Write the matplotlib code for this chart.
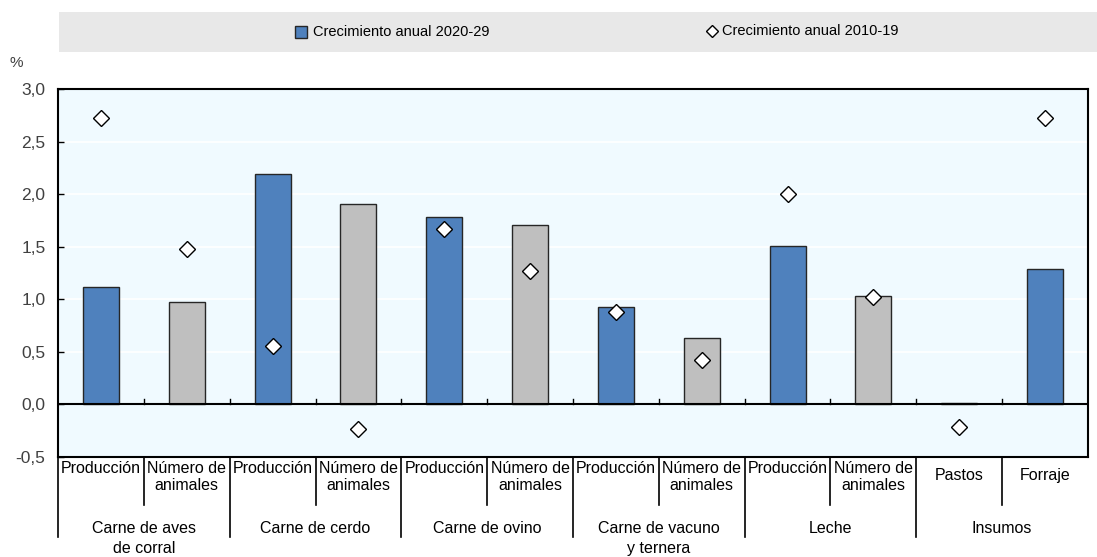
import numpy as np
import matplotlib.pyplot as plt
from matplotlib.patches import Rectangle
from matplotlib.lines import Line2D
from matplotlib.ticker import FuncFormatter

plt.rcParams['font.family'] = ['Liberation Sans', 'DejaVu Sans']

sub_labels = ["Producción", "Número de\nanimales", "Producción", "Número de\nanimales",
              "Producción", "Número de\nanimales", "Producción", "Número de\nanimales",
              "Producción", "Número de\nanimales", "Pastos", "Forraje"]
groups = ["Carne de aves\nde corral", "Carne de cerdo", "Carne de ovino",
          "Carne de vacuno\ny ternera", "Leche", "Insumos"]
growth_2020_29 = [1.12, 0.97, 2.19, 1.91, 1.78, 1.71, 0.93, 0.63, 1.51, 1.03, 0.01, 1.29]
growth_2010_19 = [2.72, 1.48, 0.56, -0.23, 1.67, 1.27, 0.88, 0.42, 2.00, 1.02, -0.21, 2.72]
is_animals = [False, True, False, True, False, True, False, True, False, True, False, False]

blue = "#4F81BD"
grey = "#BFBFBF"

W, H = 1097, 557
fig = plt.figure(figsize=(W / 100, H / 100), dpi=100)
ax = fig.add_axes([58 / W, 1 - 457 / H, 1030 / W, 368 / H])
ax.set_facecolor("#F0FAFF")

x = np.arange(len(growth_2020_29))
colors = [grey if a else blue for a in is_animals]
ax.bar(x, growth_2020_29, width=0.42, color=colors, edgecolor="#262626", linewidth=1, zorder=3)
ax.plot(x, growth_2010_19, linestyle="none", marker="D", markersize=8,
        markerfacecolor="white", markeredgecolor="black", markeredgewidth=1, zorder=4)

ax.set_xlim(-0.5, len(x) - 0.5)
ax.set_ylim(-0.5, 3.0)
ax.set_yticks(np.arange(-0.5, 3.01, 0.5))
ax.yaxis.set_major_formatter(FuncFormatter(lambda v, p: f"{v:.1f}".replace(".", ",")))
ax.tick_params(axis="y", direction="in", length=4, width=1, labelsize=12.5, labelcolor="#404040", pad=9)
ax.set_xticks([])
ax.grid(axis="y", color="white", linewidth=1.2, zorder=0)
ax.axhline(0, color="black", linewidth=1.5, zorder=5)
for s in ax.spines.values():
    s.set_linewidth(1.5)
    s.set_color("black")

# small ticks on the zero line between categories
for b in np.arange(0.5, len(x) - 1, 1.0):
    ax.plot([b, b], [0, 0.05], color="black", linewidth=1, zorder=5)

# category labels below the axes
trans = ax.get_xaxis_transform()
px = 1 / 368  # one pixel in axes fraction
for i, lab in enumerate(sub_labels):
    yy = -4 * px if i < 10 else -11 * px
    ax.text(i, yy, lab, transform=trans, ha="center", va="top", fontsize=11.5,
            linespacing=1.15, clip_on=False)
for b in np.arange(0.5, len(x) - 1, 1.0):
    bottom = -80 * px if int(b + 0.5) % 2 == 0 else -48 * px
    ax.plot([b, b], [0, bottom], transform=trans, color="black", linewidth=1.2, clip_on=False)
ax.plot([-0.5, -0.5], [0, -80 * px], transform=trans, color="black", linewidth=1.2, clip_on=False)
for g, lab in enumerate(groups):
    ax.text(2 * g + 0.5, -64 * px, lab, transform=trans, ha="center", va="top", fontsize=11.5,
            linespacing=1.4, clip_on=False)

# legend band
fig.patches.append(Rectangle((59 / W, 1 - 52 / H), 1038 / W, 40 / H, transform=fig.transFigure,
                             facecolor="#E8E8E8", edgecolor="none", zorder=0))
fig.add_artist(Line2D([301 / W], [1 - 32 / H], marker="s", markersize=8, markerfacecolor=blue,
                      markeredgecolor="#262626", linestyle="none", transform=fig.transFigure))
fig.text(313 / W, 1 - 32 / H, "Crecimiento anual 2020-29", fontsize=10.5, va="center")
fig.add_artist(Line2D([712 / W], [1 - 31 / H], marker="D", markersize=6, markerfacecolor="white",
                      markeredgecolor="black", linestyle="none", transform=fig.transFigure))
fig.text(722 / W, 1 - 31 / H, "Crecimiento anual 2010-19", fontsize=10.5, va="center")
fig.text(10 / W, 1 - 63 / H, "%", fontsize=11, color="#404040", va="center")

fig.savefig("out.png", dpi=100)
